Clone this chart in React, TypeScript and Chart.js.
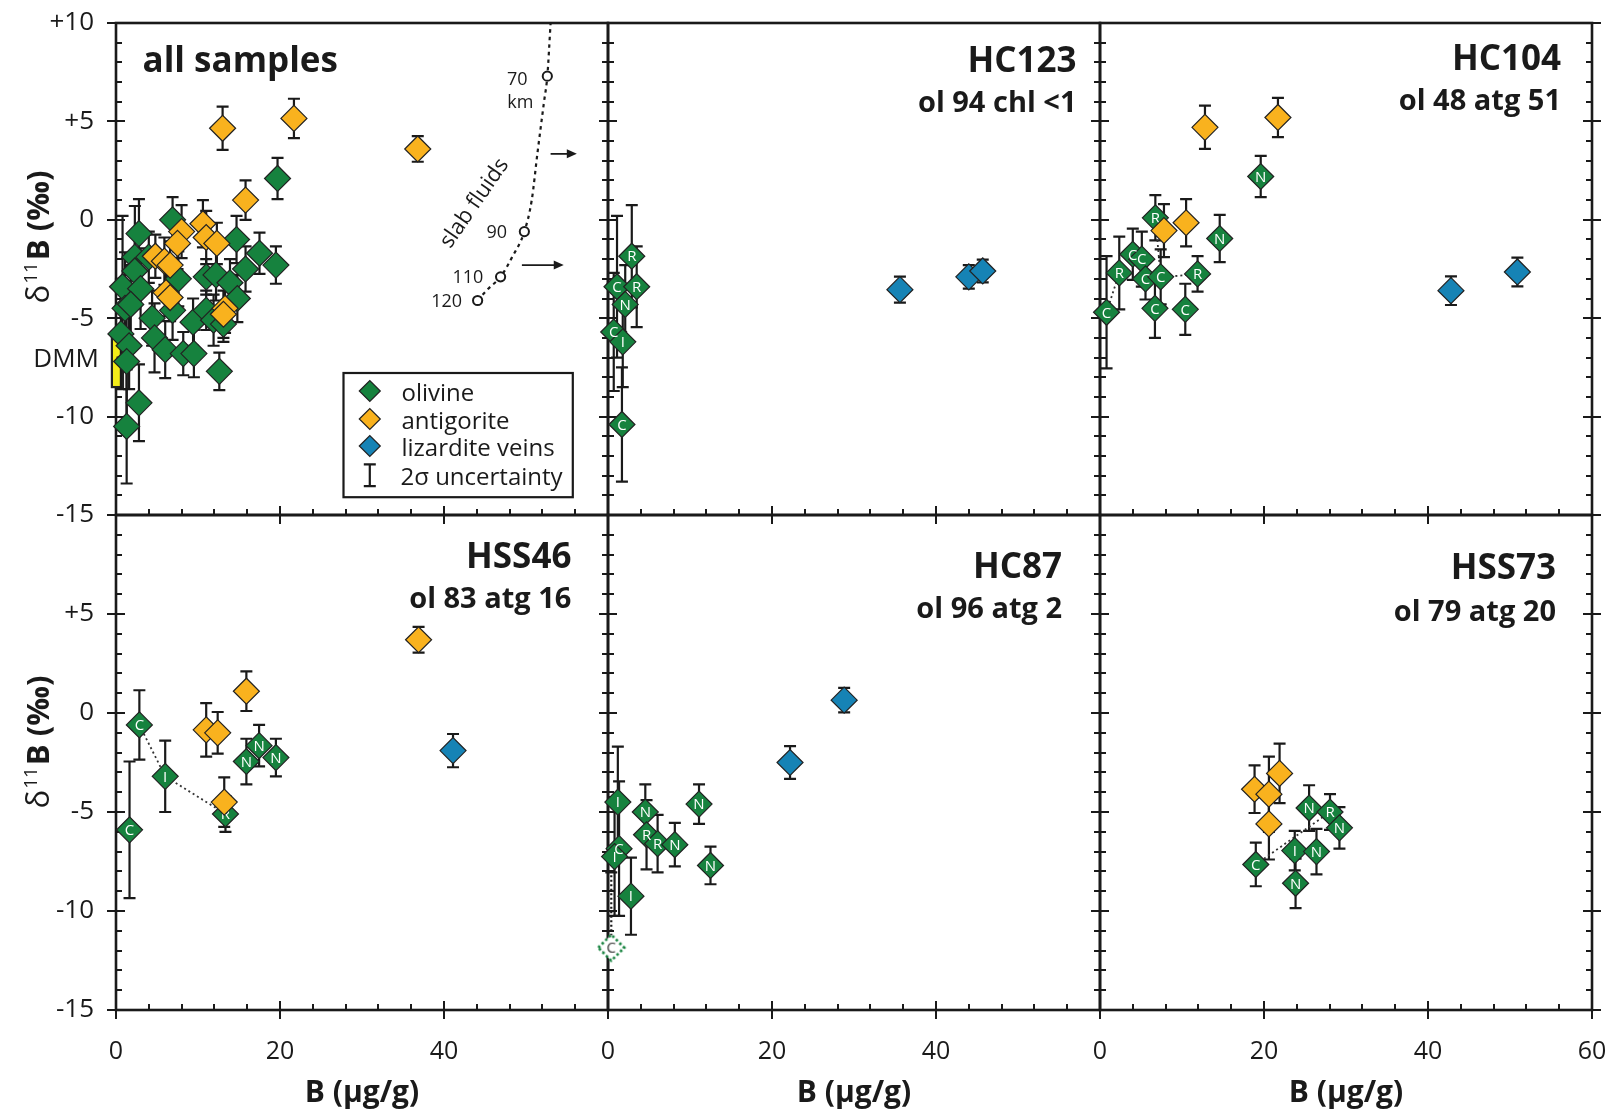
import React, { useEffect, useRef } from "react";
import { Chart, registerables } from "chart.js";

Chart.register(...registerables);
Chart.defaults.font.family = '"Open Sans", "DejaVu Sans", sans-serif';

type P = [number, number, number];
type LP = [number, number, number, string];

// ---------------- data (B µg/g, δ11B ‰, 2σ, spot type) ----------------
const allOlivine: P[] = [
  [6.9, 0.0, 1.15], [2.8, -0.7, 1.75], [19.7, 2.1, 1.05], [14.7, -1.0, 1.2], [17.5, -1.7, 1.05],
  [19.5, -2.3, 0.95], [15.8, -2.5, 1.15], [2.3, -1.9, 2.6], [2.3, -2.6, 1.85], [4.0, -1.9, 1.3],
  [0.8, -3.4, 3.6], [3.0, -3.5, 2.05], [7.6, -3.0, 1.4], [11.0, -2.9, 0.9], [12.2, -2.8, 1.3],
  [13.9, -3.2, 1.2], [14.8, -4.0, 1.2], [1.1, -4.5, 2.85], [1.8, -4.3, 2.0], [6.9, -4.6, 1.5],
  [4.4, -5.0, 1.4], [9.4, -5.2, 1.2], [11.0, -4.6, 1.0], [11.9, -5.1, 1.3], [13.1, -5.3, 0.9],
  [4.7, -6.0, 1.75], [6.0, -6.6, 1.45], [8.2, -6.8, 1.1], [9.5, -6.8, 1.2], [12.6, -7.7, 0.95],
  [0.6, -5.8, 2.8], [1.6, -6.4, 2.2], [1.3, -7.2, 3.0], [2.8, -9.3, 1.95], [1.3, -10.5, 2.9],
];
const allAntigorite: P[] = [
  [13.0, 4.65, 1.1], [21.7, 5.15, 1.0], [36.8, 3.6, 0.65], [15.8, 1.0, 1.0], [10.6, -0.2, 1.2],
  [8.0, -0.6, 1.35], [7.5, -1.2, 1.3], [11.0, -0.9, 1.35], [12.3, -1.2, 1.05], [4.8, -1.85, 1.1],
  [5.9, -2.1, 1.2], [6.6, -2.3, 1.2], [6.1, -3.7, 1.2], [6.6, -3.95, 1.2], [13.3, -4.5, 1.25],
  [13.1, -4.8, 1.2],
];
const dmmB = [-0.5, 0.85];
const dmmD = [-8.5, -5.7];
const slabCurve: [number, number][] = [
  [44.1, -4.1], [45.4, -3.5], [46.9, -2.9], [48.3, -1.9], [49.8, -0.6], [50.7, 1.0],
  [51.4, 3.4], [52.2, 6.0], [52.6, 7.3], [53.0, 10.0],
];
const slabDepths: [number, number, string][] = [
  [52.6, 7.3, "70"], [49.8, -0.6, "90"], [46.9, -2.9, "110"], [44.1, -4.1, "120"],
];
const slabLabelPos: [number, number][] = [[50.2, 7.2], [47.7, -0.6], [44.8, -2.9], [42.2, -4.1]];
const slabArrows: [number, number, number][] = [[53.0, 56.2, 3.35], [49.5, 54.6, -2.3]];

const hc123Olivine: LP[] = [
  [1.1, -3.4, 3.6, "C"], [2.9, -1.85, 2.6, "R"], [3.5, -3.4, 2.05, "R"], [2.1, -4.3, 2.0, "N"],
  [0.7, -5.7, 3.0, "C"], [1.8, -6.2, 2.3, "I"], [1.7, -10.4, 2.9, "C"],
];
const hc123Lizardite: P[] = [[35.6, -3.55, 0.66], [44.0, -2.9, 0.6], [45.7, -2.6, 0.58]];

const hc104Olivine: LP[] = [
  [19.6, 2.2, 1.05, "N"], [14.6, -0.95, 1.2, "N"], [6.75, 0.1, 1.15, "R"], [4.0, -1.75, 1.3, "C"],
  [5.1, -2.0, 1.4, "C"], [2.35, -2.7, 1.85, "R"], [5.55, -3.0, 1.05, "C"], [7.4, -2.9, 1.4, "C"],
  [11.9, -2.75, 0.9, "R"], [6.7, -4.5, 1.5, "C"], [10.4, -4.55, 1.3, "C"], [0.8, -4.7, 2.85, "C"],
];
const hc104Antigorite: P[] = [[12.8, 4.7, 1.1], [21.7, 5.2, 1.0], [10.5, -0.15, 1.2], [7.8, -0.55, 1.35]];
const hc104Lizardite: P[] = [[42.8, -3.6, 0.73], [50.9, -2.65, 0.73]];
const hc104Links: [number, number][][] = [
  [[0.8, -4.7], [2.35, -2.7]], [[7.4, -2.9], [6.75, 0.1]], [[5.55, -3.0], [11.9, -2.75]],
];

const hss46Olivine: LP[] = [
  [1.65, -5.9, 3.45, "C"], [2.85, -0.6, 1.75, "C"], [6.0, -3.2, 1.8, "I"], [13.35, -5.1, 0.9, "R"],
  [15.9, -2.45, 1.15, "N"], [17.45, -1.65, 1.05, "N"], [19.5, -2.25, 0.95, "N"],
];
const hss46Antigorite: P[] = [[36.9, 3.7, 0.65], [15.9, 1.1, 1.0], [11.0, -0.85, 1.35], [12.4, -1.0, 1.05], [13.2, -4.5, 1.25]];
const hss46Lizardite: P[] = [[41.1, -1.9, 0.84]];
const hss46Links: [number, number][][] = [[[2.85, -0.6], [6.0, -3.2], [13.35, -5.1]]];

const hc87Olivine: LP[] = [
  [1.2, -4.5, 2.8, "I"], [4.55, -5.0, 1.4, "N"], [4.7, -6.15, 1.75, "R"], [6.05, -6.6, 1.45, "R"],
  [8.15, -6.65, 1.1, "N"], [11.1, -4.6, 1.0, "N"], [12.5, -7.7, 0.95, "N"], [1.35, -6.85, 3.4, "C"],
  [0.8, -7.25, 3.0, "I"], [2.8, -9.25, 1.95, "I"],
];
const hc87Excluded: LP[] = [[0.4, -11.85, 3.8, "C"]];
const hc87Lizardite: P[] = [[22.2, -2.5, 0.83], [28.8, 0.65, 0.62]];

const hss73Olivine: LP[] = [
  [19.0, -7.65, 1.1, "C"], [23.75, -6.95, 1.0, "I"], [23.85, -8.6, 1.25, "N"], [26.4, -7.0, 1.15, "N"],
  [25.5, -4.8, 1.15, "N"], [28.05, -5.0, 0.9, "R"], [29.2, -5.8, 1.05, "N"],
];
const hss73Antigorite: P[] = [[18.85, -3.85, 1.2], [20.6, -4.1, 1.9], [21.9, -3.05, 1.5], [20.6, -5.6, 1.8]];
const hss73Links: [number, number][][] = [[[19.0, -7.65], [28.05, -5.0]]];

const legendItems = ["olivine", "antigorite", "lizardite veins", "2σ uncertainty"];
const xTicks = [0, 20, 40, 60];

// ---------------- styles ----------------
const GREEN = "#16823E";
const ORANGE = "#F9B21E";
const BLUE = "#1683B5";
const EDGE = "#222";
const INK = "#1a1a1a";
const COL_X = [116, 608, 1100];
const PW = 492;
const ROW_Y = [23, 515];
const PH = [492, 495];
const Y_TITLE_OFF = [214, 227];

interface Spec {
  key: string; col: number; row: number; title: string; sub: string;
  olivine: (P | LP)[]; antigorite: P[]; lizardite: P[]; links: [number, number][][];
  excluded: LP[]; titleRight: number; titleBase: number; subBase: number;
}

const panels: Spec[] = [
  { key: "all", col: 0, row: 0, title: "all samples", sub: "", olivine: allOlivine, antigorite: allAntigorite, lizardite: [], links: [], excluded: [], titleRight: 0, titleBase: 49, subBase: 0 },
  { key: "HC123", col: 1, row: 0, title: "HC123", sub: "ol 94 chl <1", olivine: hc123Olivine, antigorite: [], lizardite: hc123Lizardite, links: [], excluded: [], titleRight: 23.5, titleBase: 48.5, subBase: 89 },
  { key: "HC104", col: 2, row: 0, title: "HC104", sub: "ol 48 atg 51", olivine: hc104Olivine, antigorite: hc104Antigorite, lizardite: hc104Lizardite, links: hc104Links, excluded: [], titleRight: 31, titleBase: 47, subBase: 86.5 },
  { key: "HSS46", col: 0, row: 1, title: "HSS46", sub: "ol 83 atg 16", olivine: hss46Olivine, antigorite: hss46Antigorite, lizardite: hss46Lizardite, links: hss46Links, excluded: [], titleRight: 36.6, titleBase: 53, subBase: 93.3 },
  { key: "HC87", col: 1, row: 1, title: "HC87", sub: "ol 96 atg 2", olivine: hc87Olivine, antigorite: [], lizardite: hc87Lizardite, links: [], excluded: hc87Excluded, titleRight: 38, titleBase: 62.7, subBase: 103 },
  { key: "HSS73", col: 2, row: 1, title: "HSS73", sub: "ol 79 atg 20", olivine: hss73Olivine, antigorite: hss73Antigorite, lizardite: [], links: hss73Links, excluded: [], titleRight: 36, titleBase: 64, subBase: 105.8 },
];

function geom(s: Spec) {
  const padL = s.col === 0 ? 116 : 30;
  const padR = s.col === 2 ? 19 : 30;
  const padT = s.row === 0 ? 23 : 30;
  const padB = s.row === 1 ? 104 : 30;
  return { x: COL_X[s.col] - padL, y: ROW_Y[s.row] - padT, w: PW + padL + padR, h: PH[s.row] + padT + padB, padL, padR, padT, padB };
}

function seg(ctx: CanvasRenderingContext2D, x1: number, y1: number, x2: number, y2: number) {
  ctx.moveTo(x1, y1);
  ctx.lineTo(x2, y2);
}

function diamondPath(ctx: CanvasRenderingContext2D, x: number, y: number, r: number) {
  ctx.beginPath();
  ctx.moveTo(x - r, y);
  ctx.lineTo(x, y - r);
  ctx.lineTo(x + r, y);
  ctx.lineTo(x, y + r);
  ctx.closePath();
}

function makeExcludedMarker(letter: string) {
  const r = 13, s = 2 * r + 6, m = s / 2;
  const c = document.createElement("canvas");
  c.width = s; c.height = s;
  const g = c.getContext("2d")!;
  diamondPath(g, m, m, r);
  g.fillStyle = "#fff"; g.fill();
  g.setLineDash([2.5, 2.5]); g.lineWidth = 2.6; g.strokeStyle = GREEN; g.stroke();
  g.setLineDash([]);
  g.font = '15px "Open Sans"'; g.fillStyle = "#333"; g.textAlign = "center"; g.textBaseline = "middle";
  g.fillText(letter, m, m + 1);
  return c;
}

function drawFrame(ctx: CanvasRenderingContext2D, a: any, xs: any, ys: any, row: number) {
  ctx.save();
  ctx.strokeStyle = INK;
  ctx.lineWidth = 2;
  ctx.beginPath();
  for (let v = -15; v <= 10; v++) {
    const py = Math.round(ys.getPixelForValue(v));
    const major = v % 5 === 0;
    const inL = major ? 9 : 6, outL = major ? 9 : 0;
    seg(ctx, a.left - outL, py, a.left + inL, py);
    seg(ctx, a.right - inL, py, a.right + outL, py);
  }
  for (let v = 0; v <= 60; v += 4) {
    const px = Math.round(xs.getPixelForValue(v));
    const major = v % 20 === 0;
    const inL = major ? 9 : 6, outL = major ? 9 : 0;
    seg(ctx, px, a.bottom + outL, px, a.bottom - inL);
    if (row === 1 && major) seg(ctx, px, a.top - 9, px, a.top + 9);
  }
  ctx.stroke();
  ctx.lineWidth = 2.6;
  ctx.strokeRect(a.left, a.top, a.right - a.left, a.bottom - a.top);
  ctx.restore();
}

function drawErrorBar(ctx: CanvasRenderingContext2D, px: number, yt: number, yb: number) {
  ctx.beginPath();
  seg(ctx, px, yt, px, yb);
  seg(ctx, px - 6, yt, px + 6, yt);
  seg(ctx, px - 6, yb, px + 6, yb);
  ctx.stroke();
}

function drawYTitle(ctx: CanvasRenderingContext2D, cx: number, cy: number) {
  ctx.save();
  ctx.translate(cx, cy);
  ctx.rotate(-Math.PI / 2);
  const f1 = '31px "Open Sans"', f2 = '19px "Open Sans"', f3 = 'bold 31px "Open Sans"';
  ctx.font = f1; const w1 = ctx.measureText("δ").width;
  ctx.font = f2; const w2 = ctx.measureText("11").width;
  ctx.font = f3; const w3 = ctx.measureText("B (‰)").width;
  let x = -(w1 + w2 + w3 + 3) / 2;
  const base = 11;
  ctx.fillStyle = INK;
  ctx.textAlign = "left";
  ctx.textBaseline = "alphabetic";
  ctx.font = f1; ctx.fillText("δ", x, base); x += w1 + 1;
  ctx.font = f2; ctx.fillText("11", x, base - 12); x += w2 + 2;
  ctx.font = f3; ctx.fillText("B (‰)", x, base);
  ctx.restore();
}

function makePlugin(spec: Spec) {
  return {
    id: "panel_" + spec.key,
    beforeDatasetsDraw(chart: any) {
      const { ctx, chartArea: a, scales } = chart;
      const xs = scales.x, ys = scales.y;
      drawFrame(ctx, a, xs, ys, spec.row);
      ctx.save();
      if (spec.key === "all") {
        const x0 = xs.getPixelForValue(dmmB[0]), x1 = xs.getPixelForValue(dmmB[1]);
        const y0 = ys.getPixelForValue(dmmD[1]), y1 = ys.getPixelForValue(dmmD[0]);
        ctx.fillStyle = "#F3EC19";
        ctx.fillRect(x0, y0, x1 - x0, y1 - y0);
        ctx.strokeStyle = "#222";
        ctx.lineWidth = 2.2;
        ctx.strokeRect(x0, y0, x1 - x0, y1 - y0);
      }
      ctx.strokeStyle = INK;
      ctx.lineWidth = 2.2;
      const all: (P | LP)[] = [...spec.olivine, ...spec.antigorite, ...spec.lizardite];
      for (const p of all) {
        const px = xs.getPixelForValue(p[0]);
        drawErrorBar(ctx, px, ys.getPixelForValue(p[1] + p[2]), ys.getPixelForValue(Math.max(p[1] - p[2], -15)));
      }
      for (const p of spec.excluded) {
        const px = xs.getPixelForValue(p[0]);
        const yt = ys.getPixelForValue(p[1] + p[2]);
        ctx.setLineDash([2, 2.5]);
        ctx.beginPath();
        seg(ctx, px, ys.getPixelForValue(p[1]) - 12, px, yt);
        ctx.stroke();
        ctx.setLineDash([]);
        ctx.beginPath();
        seg(ctx, px - 6, yt, px + 6, yt);
        ctx.stroke();
      }
      ctx.restore();
    },
    afterDatasetDraw(chart: any, args: any) {
      const dsCfg = chart.data.datasets[args.index];
      if (!dsCfg.letters) return;
      const { ctx } = chart;
      ctx.save();
      ctx.font = '15px "Open Sans"';
      ctx.fillStyle = "#fff";
      ctx.textAlign = "center";
      ctx.textBaseline = "middle";
      args.meta.data.forEach((el: any, i: number) => {
        ctx.fillText(dsCfg.letters[i], el.x, el.y + 1);
      });
      ctx.restore();
    },
    afterDraw(chart: any) {
      const { ctx, chartArea: a, scales } = chart;
      const xs = scales.x, ys = scales.y;
      ctx.save();
      ctx.fillStyle = INK;
      ctx.textBaseline = "alphabetic";
      if (spec.key === "all") {
        ctx.font = 'bold 35px "Open Sans"';
        ctx.textAlign = "left";
        ctx.fillText(spec.title, a.left + 26.5, a.top + spec.titleBase);
      } else {
        ctx.textAlign = "right";
        ctx.font = 'bold 35px "Open Sans"';
        ctx.fillText(spec.title, a.right - spec.titleRight, a.top + spec.titleBase);
        ctx.font = 'bold 29px "Open Sans"';
        ctx.fillText(spec.sub, a.right - spec.titleRight, a.top + spec.subBase);
      }
      if (spec.col === 0) drawYTitle(ctx, a.left - 78, a.top + Y_TITLE_OFF[spec.row]);
      if (spec.key === "all") {
        // DMM label
        ctx.font = '26px "Open Sans"';
        ctx.textAlign = "right";
        ctx.fillText("DMM", a.left - 17, a.top + 343.5);
        // slab fluid labels
        ctx.font = '18px "Open Sans"';
        slabDepths.forEach((d, i) => {
          const [lx, ly] = slabLabelPos[i];
          ctx.fillText(d[2], xs.getPixelForValue(lx), ys.getPixelForValue(ly) + 6.5);
        });
        ctx.textAlign = "center";
        ctx.fillText("km", xs.getPixelForValue(49.3), ys.getPixelForValue(6.02) + 6.5);
        ctx.save();
        ctx.translate(xs.getPixelForValue(43.73), ys.getPixelForValue(0.84));
        ctx.rotate((-55.3 * Math.PI) / 180);
        ctx.font = '22px "Open Sans"';
        ctx.textBaseline = "middle";
        ctx.fillText("slab fluids", 0, 0);
        ctx.restore();
        // arrows
        ctx.strokeStyle = INK;
        ctx.lineWidth = 1.8;
        for (const [x0v, x1v, yv] of slabArrows) {
          const x0 = xs.getPixelForValue(x0v), x1 = xs.getPixelForValue(x1v), y = ys.getPixelForValue(yv);
          ctx.beginPath();
          seg(ctx, x0, y, x1 - 6, y);
          ctx.stroke();
          ctx.beginPath();
          ctx.moveTo(x1, y);
          ctx.lineTo(x1 - 10, y - 4.5);
          ctx.lineTo(x1 - 10, y + 4.5);
          ctx.closePath();
          ctx.fill();
        }
        // legend
        const lx = a.left + 227.5, ly = a.top + 350;
        ctx.fillStyle = "#fff";
        ctx.fillRect(lx, ly, 229.3, 124.2);
        ctx.lineWidth = 2.2;
        ctx.strokeStyle = INK;
        ctx.strokeRect(lx, ly, 229.3, 124.2);
        const cols = [GREEN, ORANGE, BLUE];
        const ys2 = [368, 396, 423];
        ctx.font = '24px "Open Sans"';
        ctx.textAlign = "left";
        for (let i = 0; i < 3; i++) {
          diamondPath(ctx, a.left + 253.8, a.top + ys2[i], 10.5);
          ctx.fillStyle = cols[i];
          ctx.fill();
          ctx.lineWidth = 1.2;
          ctx.strokeStyle = EDGE;
          ctx.stroke();
          ctx.fillStyle = INK;
          ctx.fillText(legendItems[i], a.left + 285.5, a.top + ys2[i] + 10);
        }
        ctx.strokeStyle = INK;
        ctx.lineWidth = 2.2;
        drawErrorBar(ctx, a.left + 253.8, a.top + 441.3, a.top + 463.1);
        ctx.fillStyle = INK;
        ctx.fillText(legendItems[3], a.left + 284.5, a.top + 461.5);
      }
      ctx.restore();
    },
  };
}

function toXY(arr: (P | LP | [number, number])[]) {
  return arr.map((p) => ({ x: p[0], y: p[1] }));
}

function zeroPad(s: any) {
  s.paddingTop = 0; s.paddingBottom = 0; s.paddingLeft = 0; s.paddingRight = 0;
}

function buildConfig(spec: Spec): any {
  const g = geom(spec);
  const showY = spec.col === 0;
  const showX = spec.row === 1;
  const marker = (color: string, order: number) => ({
    showLine: false, pointStyle: "rectRot", pointRadius: 13, pointHoverRadius: 13,
    pointBackgroundColor: color, pointBorderColor: EDGE, pointBorderWidth: 1.2,
    pointHoverBorderWidth: 1.2, order, clip: false,
  });
  const datasets: any[] = [];
  spec.links.forEach((l) => {
    datasets.push({
      data: toXY(l), showLine: true, borderColor: "#333", borderWidth: 1.8, borderDash: [2, 3],
      pointRadius: 0, pointHoverRadius: 0, order: 10, clip: false,
    });
  });
  if (spec.key === "all") {
    datasets.push({
      data: toXY(slabCurve), showLine: true, borderColor: INK, borderWidth: 2.2, borderDash: [3.5, 4],
      cubicInterpolationMode: "monotone", pointRadius: 0, pointHoverRadius: 0, order: 10, clip: false,
    });
    datasets.push({
      data: slabDepths.map((d) => ({ x: d[0], y: d[1] })), showLine: false, pointStyle: "circle",
      pointRadius: 4.6, pointHoverRadius: 4.6, pointBackgroundColor: "#fff", pointBorderColor: INK,
      pointBorderWidth: 2, order: 0, clip: false,
    });
  }
  const hasLetters = spec.key !== "all";
  datasets.push({
    data: toXY(spec.olivine), ...marker(GREEN, 4),
    letters: hasLetters ? spec.olivine.map((p) => (p as LP)[3]) : undefined,
  });
  if (spec.antigorite.length) datasets.push({ data: toXY(spec.antigorite), ...marker(ORANGE, 3) });
  if (spec.lizardite.length) datasets.push({ data: toXY(spec.lizardite), ...marker(BLUE, 2) });
  if (spec.excluded.length) {
    const img = makeExcludedMarker(spec.excluded[0][3]);
    datasets.push({
      data: toXY(spec.excluded), showLine: false, pointStyle: img, pointRadius: 13, order: 1, clip: false,
    });
  }
  return {
    type: "scatter",
    data: { datasets },
    options: {
      responsive: false,
      maintainAspectRatio: false,
      animation: false,
      events: [],
      layout: { padding: { left: showY ? 0 : g.padL, right: g.padR, top: g.padT, bottom: showX ? 0 : g.padB } },
      plugins: { legend: { display: false }, tooltip: { enabled: false } },
      scales: {
        x: {
          type: "linear", min: 0, max: 60, display: showX,
          grid: { display: false, drawTicks: false }, border: { display: false },
          afterBuildTicks: (s: any) => { s.ticks = xTicks.map((v) => ({ value: v })); },
          ticks: {
            autoSkip: false, maxRotation: 0, padding: 27, color: INK, font: { size: 25 },
            callback: (v: number) => (v === 60 && spec.col < 2 ? "" : String(v)),
          },
          title: { display: true, text: "B (µg/g)", color: INK, font: { size: 30, weight: "bold" }, padding: { top: 0, bottom: 3 } },
          afterFit: (s: any) => { s.height = showX ? g.padB : 0; zeroPad(s); },
        },
        y: {
          type: "linear", min: -15, max: 10, display: showY,
          grid: { display: false, drawTicks: false }, border: { display: false },
          ticks: {
            stepSize: 5, padding: 22, color: INK, font: { size: 26 },
            callback: (v: number) => (v === 10 && spec.row === 1 ? "" : v > 0 ? "+" + v : String(v)),
          },
          afterFit: (s: any) => { s.width = showY ? g.padL : 0; zeroPad(s); },
        },
      },
    },
    plugins: [makePlugin(spec)],
  };
}

export default function App() {
  const refs = useRef<(HTMLCanvasElement | null)[]>([]);
  useEffect(() => {
    document.body.style.margin = "0";
    document.body.style.overflow = "hidden";
    const charts = panels.map((spec, i) => new Chart(refs.current[i] as HTMLCanvasElement, buildConfig(spec)));
    return () => charts.forEach((c) => c.destroy());
  }, []);
  return (
    <div style={{ position: "relative", width: 1611, height: 1114, overflow: "hidden", background: "#fff" }}>
      {panels.map((spec, i) => {
        const g = geom(spec);
        return (
          <canvas
            key={spec.key}
            ref={(el) => { refs.current[i] = el; }}
            width={g.w}
            height={g.h}
            style={{ position: "absolute", left: g.x, top: g.y, width: g.w, height: g.h }}
          />
        );
      })}
    </div>
  );
}
